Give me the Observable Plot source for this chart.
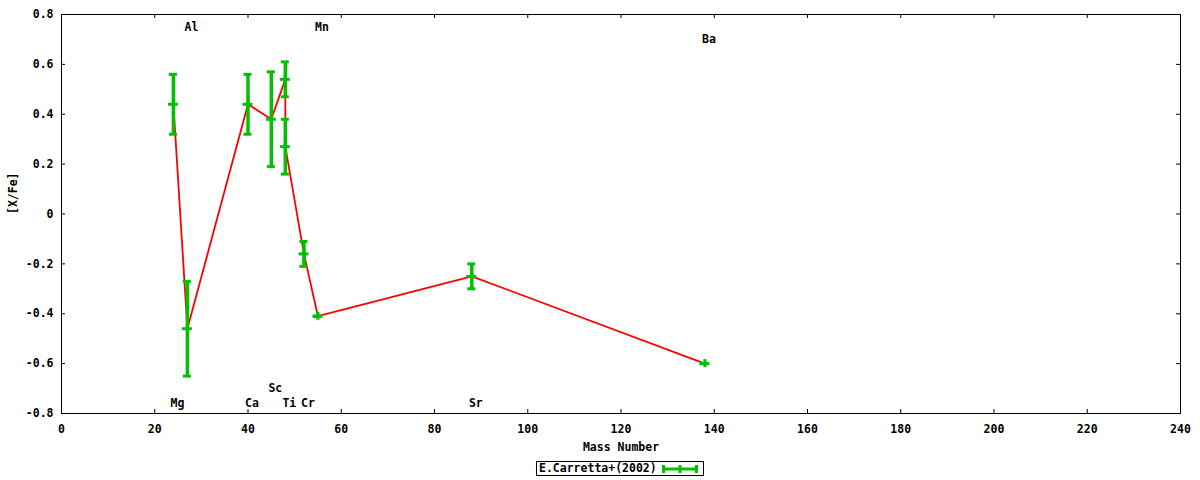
<!DOCTYPE html>
<html>
<head>
<meta charset="utf-8">
<script src="https://cdn.jsdelivr.net/npm/d3@7"></script>
<script src="https://cdn.jsdelivr.net/npm/@observablehq/plot@0.6"></script>
<style>
  html, body { margin: 0; padding: 0; background: #fff; }
  body { width: 1200px; font-family: "DejaVu Sans Mono", monospace; font-weight: bold; font-size: 11.5px; color: #000; }
  #chart svg { display: block; }
  #legend { position: relative; height: 24px; }
  #legend .box { position: absolute; left: 536px; top: 5px; box-sizing: border-box; display: flex; align-items: center; border: 1px solid #000; height: 15px; padding: 0 5px 0 2px; gap: 5px; line-height: 13px; }
  #legend svg { display: block; }
</style>
</head>
<body>
<div id="chart"></div>
<div id="legend"></div>
<script>
// ---- data ----
const elements    = ["Mg", "Al", "Ca", "Sc", "Ti", "Ti", "Cr", "Mn", "Sr", "Ba"];
const massNumbers = [24, 27, 40, 45, 48, 48, 52, 55, 88, 138];
const xFeValues   = [0.44, -0.46, 0.44, 0.38, 0.54, 0.27, -0.16, -0.41, -0.25, -0.60];
const xFeErrors   = [0.12, 0.19, 0.12, 0.19, 0.07, 0.11, 0.05, 0.0, 0.05, 0.0];

const labelNames = ["Mg", "Al", "Ca", "Sc", "Ti", "Cr", "Mn", "Sr", "Ba"];
const labelMass  = [24, 27, 40, 45, 48, 52, 55, 88, 138];
const labelY     = [-0.76, 0.75, -0.76, -0.70, -0.76, -0.76, 0.75, -0.76, 0.70];

const xTicks = [0, 20, 40, 60, 80, 100, 120, 140, 160, 180, 200, 220, 240];
const yTicks = [-0.8, -0.6, -0.4, -0.2, 0, 0.2, 0.4, 0.6, 0.8];

const seriesName = "E.Carretta+(2002)";
const xLabel = "Mass Number";
const yLabel = "[X/Fe]";

// ---- build table ----
const points = massNumbers.map((m, i) => ({
  el: elements[i], x: m, y: xFeValues[i],
  lo: xFeValues[i] - xFeErrors[i], hi: xFeValues[i] + xFeErrors[i]
}));
const labels = labelNames.map((n, i) => ({name: n, x: labelMass[i], y: labelY[i]}));

const W = 1200, H = 456, mL = 61, mR = 20, mT = 14, mB = 43;
const innerW = W - mL - mR, innerH = H - mT - mB;
const green = "#00c000", red = "#ff0000";
const tickLen = 4;

const chart = Plot.plot({
  width: W, height: H,
  marginLeft: mL, marginRight: mR, marginTop: mT, marginBottom: mB,
  x: {domain: [0, 240], label: null},
  y: {domain: [-0.8, 0.8], label: null},
  style: {fontFamily: "'DejaVu Sans Mono', monospace", fontSize: "11.5px", fontWeight: "bold", background: "#fff", color: "#000"},
  marks: [
    // inward ticks on all four sides
    Plot.tickX(xTicks, {x: d => d, insetTop: innerH - tickLen, stroke: "#000"}),
    Plot.tickX(xTicks, {x: d => d, insetBottom: innerH - tickLen, stroke: "#000"}),
    Plot.tickY(yTicks, {y: d => d, insetRight: innerW - tickLen, stroke: "#000"}),
    Plot.tickY(yTicks, {y: d => d, insetLeft: innerW - tickLen, stroke: "#000"}),
    Plot.axisX({ticks: xTicks, tickSize: 0, tickPadding: 11, tickFormat: d => String(d), label: null}),
    Plot.axisY({ticks: yTicks, tickSize: 0, tickPadding: 8, tickFormat: d => d === 0 ? "0" : d.toFixed(1), label: null}),
    Plot.text([xLabel], {frameAnchor: "bottom", dy: 37, text: d => d}),
    Plot.text([yLabel], {frameAnchor: "left", dx: -48, rotate: -90, text: d => d}),
    // connecting line
    Plot.line(points, {x: "x", y: "y", stroke: red, strokeWidth: 1.8}),
    // error bars
    Plot.ruleX(points, {x: "x", y1: "lo", y2: "hi", stroke: green, strokeWidth: 3.5}),
    Plot.ruleY(points, {y: "hi", x1: "x", x2: "x", insetLeft: -4, insetRight: -4, stroke: green, strokeWidth: 3}),
    Plot.ruleY(points, {y: "lo", x1: "x", x2: "x", insetLeft: -4, insetRight: -4, stroke: green, strokeWidth: 3}),
    // center plus symbol
    Plot.ruleY(points, {y: "y", x1: "x", x2: "x", insetLeft: -5, insetRight: -5, stroke: green, strokeWidth: 3}),
    Plot.ruleX(points, {x: "x", y1: "y", y2: "y", insetTop: -4, insetBottom: -4, stroke: green, strokeWidth: 3}),
    // element labels
    Plot.text(labels, {x: "x", y: "y", text: "name", dx: 4}),
    Plot.frame({stroke: "#000"})
  ]
});
document.getElementById("chart").appendChild(chart);

// legend
const legend = document.getElementById("legend");
const box = document.createElement("div");
box.className = "box";
const span = document.createElement("span");
span.textContent = seriesName;
box.appendChild(span);
const ns = "http://www.w3.org/2000/svg";
const sw = document.createElementNS(ns, "svg");
sw.setAttribute("width", "36"); sw.setAttribute("height", "10");
const seg = (x1, y1, x2, y2) => {
  const l = document.createElementNS(ns, "line");
  l.setAttribute("x1", x1); l.setAttribute("y1", y1); l.setAttribute("x2", x2); l.setAttribute("y2", y2);
  l.setAttribute("stroke", green); l.setAttribute("stroke-width", "3");
  sw.appendChild(l);
};
seg(0, 5, 36, 5); seg(1.5, 1, 1.5, 9); seg(34.5, 1, 34.5, 9); seg(18, 1, 18, 9);
box.appendChild(sw);
legend.appendChild(box);
</script>
</body>
</html>
